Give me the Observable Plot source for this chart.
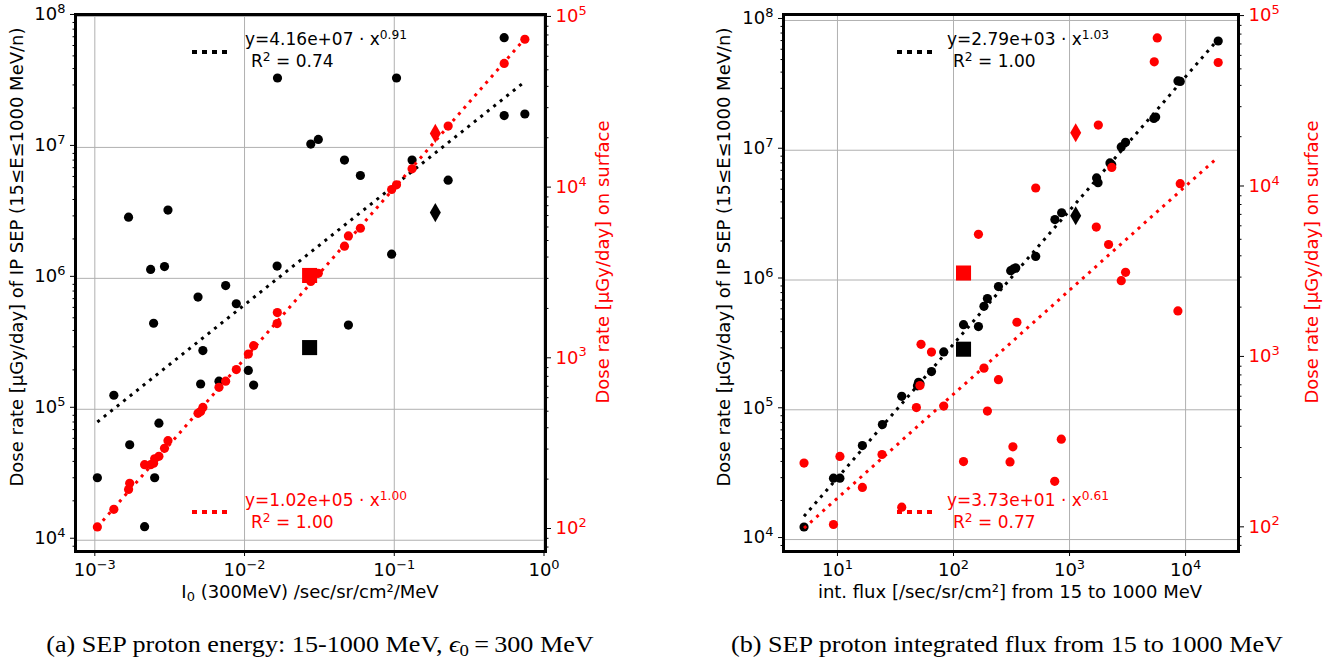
<!DOCTYPE html>
<html><head><meta charset="utf-8">
<script src="https://cdn.jsdelivr.net/npm/d3@7"></script>
<script src="https://cdn.jsdelivr.net/npm/@observablehq/plot@0.6"></script>
<style>
body{margin:0;background:#fff;}
#root{position:relative;width:1342px;height:662px;overflow:hidden;background:#fff;font-family:"DejaVu Sans",sans-serif;}
#root svg{position:absolute;top:0;}
.t{position:absolute;white-space:nowrap;line-height:1;}
.rot{transform:translate(-50%,-50%) rotate(-90deg);}
.ctr{transform:translate(-50%,-50%);}
.ax{font-size:18px;}
.leg{font-size:17px;}
sup{font-size:0.72em;vertical-align:0.5em;line-height:0;}
sub{font-size:0.72em;vertical-align:-0.25em;line-height:0;}
.cap{font-family:"Liberation Serif","Times New Roman",serif;font-size:24px;transform:translateX(-50%) scaleX(1.09);}
</style></head>
<body><div id="root"></div>
<script>
// ---------------- Panel (a): I0 (300 MeV) ----------------
const aBlackI0   = [0.542,0.745,0.542,0.0166,0.1035,0.0277,0.0311,0.0465,0.0594,0.1315,0.229,0.096,0.00168,0.00308,0.00236,0.00292,0.0165,0.00748,0.00489,0.00881,0.00247,0.0494,0.00527,0.0106,0.00509,0.00675,0.0115,0.00134,0.00268,0.00171,0.00104,0.00251,0.00215];
const aBlackDose = [6.89e7,1.80e7,1.75e7,3.39e7,3.39e7,1.06e7,1.15e7,8.0e6,6.1e6,8.0e6,5.62e6,1.53e6,2.93e6,3.32e6,1.17e6,1.23e6,1.24e6,8.8e5,7.2e5,6.4e5,4.54e5,4.4e5,2.81e5,1.98e5,1.56e5,1.64e5,1.53e5,1.28e5,7.83e4,5.36e4,3.0e4,3.0e4,1.27e4];
const aRedI0     = [0.745,0.542,0.229,0.1315,0.1035,0.096,0.0594,0.0494,0.0465,0.0311,0.0277,0.01656,0.0165,0.0115,0.0106,0.00881,0.00748,0.00675,0.00527,0.00509,0.00489,0.00308,0.00292,0.00268,0.00251,0.00247,0.00236,0.00215,0.00171,0.00168,0.00134,0.00104];
const aRedDose   = [7.55e4,5.45e4,2.34e4,1.315e4,1.06e4,9.95e3,5.9e3,5.32e3,4.63e3,3.21e3,2.88e3,1.89e3,1.63e3,1.21e3,1.08e3,877,750,690,526,498,486,336,303,272,263,248,243,243,189,174,133,105];
const aSquareI0 = [0.0272], aSquareDose = [2.96e5], aSquareRed = [3.12e3];
const aDiamondI0 = [0.188], aDiamondDose = [3.18e6], aDiamondRed = [2.12e4];
const aFitI0 = [1.04e-3, 0.745], aFitBlack = [8.0e4, 3.18e7], aFitRed = [105, 7.6e4];

// ---------------- Panel (b): integrated flux ----------------
const bBlackFlux = [1.91e4,9.0e3,8.6e3,5.52e3,5.33e3,3.04e3,2.79e3,2.23e3,2.31e3,1.71e3,1.76e3,855,748,511,344,311,330,244,196,183,122,164,82.4,64.6,51.4,48.9,50,35.8,24.4,16.4,9.24,10.5,5.15];
const bBlackDose = [6.95e7,3.39e7,3.42e7,1.80e7,1.76e7,1.15e7,1.06e7,7.98e6,7.74e6,6.12e6,5.62e6,3.3e6,2.92e6,1.52e6,1.24e6,1.18e6,1.22e6,8.9e5,7.2e5,6.27e5,4.53e5,4.38e5,2.79e5,1.97e5,1.59e5,1.53e5,1.63e5,1.27e5,7.69e4,5.3e4,2.97e4,2.97e4,1.25e4];
const bRedFlux   = [5.7e3,5.37e3,1.91e4,1.77e3,2.31e3,511,8.99e3,164,1.70e3,2.17e3,3.04e3,2.79e3,8.59e3,352,52.5,64.6,183,244,51.4,47.9,82.4,196,849,325,10.5,24.2,307,122,5.15,745,16.4,35.8,9.24];
const bRedDose   = [7.6e4,5.5e4,5.45e4,2.34e4,1.32e4,1.0e4,1.06e4,5.35e3,5.9e3,4.66e3,3.2e3,2.86e3,1.9e3,1.63e3,1.21e3,1.09e3,877,750,693,515,525,491,336,303,266,273,247,248,243,190,175,134,106];
const bSquareFlux = [122], bSquareDose = [2.93e5], bSquareRed = [3.17e3];
const bDiamondFlux = [1.13e3], bDiamondDose = [3.13e6], bDiamondRed = [2.11e4];
const bFitFlux = [5.15, 1.91e4], bFitBlack = [1.51e4, 7.17e7], bFitRed = [101, 1.52e4];

// ---------------- ticks ----------------
const xTicksA = [1e-3, 1e-2, 1e-1, 1];
const xTicksB = [1e1, 1e2, 1e3, 1e4];
const yTicksBlack = [1e4, 1e5, 1e6, 1e7, 1e8];
const yTicksRed = [1e2, 1e3, 1e4, 1e5];

const pts = (xs, ys) => xs.map((x, i) => ({x, y: ys[i]}));
const fmt = d => "10^" + Math.round(Math.log10(d));
function minor([lo, hi]) {
  const out = [];
  for (let k = Math.floor(Math.log10(lo)); k <= Math.ceil(Math.log10(hi)); k++)
    for (let m = 2; m <= 9; m++) { const v = m * 10 ** k; if (v >= lo && v <= hi) out.push(v); }
  return out;
}
function sup(svg) {
  d3.select(svg).selectAll("text").each(function () {
    const m = /^10\^(-?\d+)$/.exec(this.textContent);
    if (!m) return;
    const s = d3.select(this);
    s.text(null);
    s.append("tspan").text("10");
    s.append("tspan").attr("dy", "-0.55em").attr("font-size", "0.72em").text(m[1].replace("-", "\u2212"));
  });
  return svg;
}

function panel(cfg) {
  const common = {
    width: cfg.width, height: 600, marginLeft: cfg.mL, marginRight: cfg.mR, marginTop: 14, marginBottom: 49,
    style: {background: "transparent", fontFamily: "DejaVu Sans", fontSize: "18px", color: "black", overflow: "visible"}
  };
  const dotted = {x: "x", y: "y", strokeWidth: 3, strokeDasharray: "3,5.3", strokeLinecap: "butt"};
  const A = Plot.plot({
    ...common,
    x: {type: "log", domain: cfg.xDomain, label: null},
    y: {type: "log", domain: cfg.yDomain, label: null},
    marks: [
      Plot.gridX(cfg.xTicks, {stroke: "#b0b0b0", strokeOpacity: 1, strokeWidth: 1}),
      Plot.gridY(yTicksBlack, {stroke: "#b0b0b0", strokeOpacity: 1, strokeWidth: 1}),
      Plot.axisX(cfg.xTicks, {tickSize: 5, tickPadding: 7, tickFormat: fmt, label: null}),
      Plot.axisY(yTicksBlack, {tickSize: 5, tickPadding: 5, tickFormat: fmt, label: null, dy: -2}),
      Plot.axisY(minor(cfg.yDomain), {tickSize: 2.5, tickFormat: () => "", label: null}),
      Plot.line(pts(cfg.fitX, cfg.fitBlack), {...dotted, stroke: "black"}),
      Plot.dot(pts(cfg.bx, cfg.by), {x: "x", y: "y", r: 4.6, fill: "black"}),
      Plot.dot(pts(cfg.sqX, cfg.sqBlack), {x: "x", y: "y", r: 8.5, symbol: "square", fill: "black"}),
      Plot.dot(pts(cfg.diaX, cfg.diaBlack), {x: "x", y: "y", r: 5.8, symbol: "diamond", fill: "black"})
    ]
  });
  const B = Plot.plot({
    ...common,
    x: {type: "log", domain: cfg.xDomain, axis: null, label: null},
    y: {type: "log", domain: cfg.rDomain, label: null},
    marks: [
      Plot.axisY(yTicksRed, {anchor: "right", tickSize: 5, tickPadding: 5, tickFormat: fmt, label: null, color: "red", dy: -2}),
      Plot.axisY(minor(cfg.rDomain), {anchor: "right", tickSize: 2.5, tickFormat: () => "", label: null}),
      Plot.line(pts(cfg.fitX, cfg.fitRed), {...dotted, stroke: "red"}),
      Plot.dot(pts(cfg.rx, cfg.ry), {x: "x", y: "y", r: 4.6, fill: "red"}),
      Plot.dot(pts(cfg.sqX, cfg.sqRed), {x: "x", y: "y", r: 8.5, symbol: "square", fill: "red"}),
      Plot.dot(pts(cfg.diaX, cfg.diaRed), {x: "x", y: "y", r: 5.8, symbol: "diamond", fill: "red"}),
      Plot.frame({stroke: "black", strokeWidth: 3})
    ]
  });
  d3.select(B).selectAll('g[aria-label="y-axis tick"]').attr("stroke", "black");
  for (const s of [A, B]) { sup(s); s.style.left = cfg.left + "px"; }
  return [A, B];
}

const root = document.getElementById("root");
const pa = panel({
  left: 0, width: 670, mL: 75, mR: 125,
  xDomain: [10 ** -3.129, 10 ** 0.01], yDomain: [10 ** 3.914, 10 ** 8.015], rDomain: [10 ** 1.877, 10 ** 5.023],
  xTicks: xTicksA,
  bx: aBlackI0, by: aBlackDose, rx: aRedI0, ry: aRedDose,
  sqX: aSquareI0, sqBlack: aSquareDose, sqRed: aSquareRed,
  diaX: aDiamondI0, diaBlack: aDiamondDose, diaRed: aDiamondRed,
  fitX: aFitI0, fitBlack: aFitBlack, fitRed: aFitRed
});
const pb = panel({
  left: 671, width: 671, mL: 112, mR: 104,
  xDomain: [10 ** 0.535, 10 ** 4.456], yDomain: [10 ** 3.908, 10 ** 8.046], rDomain: [10 ** 1.867, 10 ** 5.018],
  xTicks: xTicksB,
  bx: bBlackFlux, by: bBlackDose, rx: bRedFlux, ry: bRedDose,
  sqX: bSquareFlux, sqBlack: bSquareDose, sqRed: bSquareRed,
  diaX: bDiamondFlux, diaBlack: bDiamondDose, diaRed: bDiamondRed,
  fitX: bFitFlux, fitBlack: bFitBlack, fitRed: bFitRed
});
for (const s of [...pa, ...pb]) root.appendChild(s);

// ---------------- text overlays ----------------
const legSwatch = (x, y, color) =>
  `<svg style="position:absolute;left:${x}px;top:${y - 3}px;overflow:visible" width="36" height="6"><line x1="0" x2="36" y1="3" y2="3" stroke="${color}" stroke-width="4" stroke-dasharray="5,5"/></svg>`;
const legText = (x, y, color, eq, expo, r2) =>
  `<div class="t leg" style="left:${x}px;top:${y - 9}px;color:${color}">y=${eq} · x<sup>${expo}</sup></div>` +
  `<div class="t leg" style="left:${x + 6}px;top:${y + 13}px;color:${color}">R<sup>2</sup> = ${r2}</div>`;

root.insertAdjacentHTML("beforeend", `
<div class="t ax rot" style="left:17px;top:257px">Dose rate [μGy/day] of IP SEP (15≤E≤1000 MeV/n)</div>
<div class="t ax rot" style="left:603px;top:262px;color:red">Dose rate [μGy/day] on surface</div>
<div class="t ax ctr" style="left:310px;top:592px">I<sub>0</sub> (300MeV) /sec/sr/cm²/MeV</div>
<div class="t ax rot" style="left:724px;top:257px">Dose rate [μGy/day] of IP SEP (15≤E≤1000 MeV/n)</div>
<div class="t ax rot" style="left:1312px;top:262px;color:red">Dose rate [μGy/day] on surface</div>
<div class="t ax ctr" style="left:1010px;top:592px">int. flux [/sec/sr/cm²] from 15 to 1000 MeV</div>
${legSwatch(192, 52, "black")}${legText(245, 40, "black", "4.16e+07", "0.91", "0.74")}
${legSwatch(192, 512, "red")}${legText(245, 501, "red", "1.02e+05", "1.00", "1.00")}
${legSwatch(897, 52, "black")}${legText(947, 40, "black", "2.79e+03", "1.03", "1.00")}
${legSwatch(897, 512, "red")}${legText(947, 501, "red", "3.73e+01", "0.61", "0.77")}
<div class="t cap" style="left:320px;top:632px">(a) SEP proton energy: 15-1000 MeV, <i>ϵ</i><sub>0</sub>&#8201;=&#8201;300 MeV</div>
<div class="t cap" style="left:1007px;top:632px">(b) SEP proton integrated flux from 15 to 1000 MeV</div>
`);
</script></body></html>
